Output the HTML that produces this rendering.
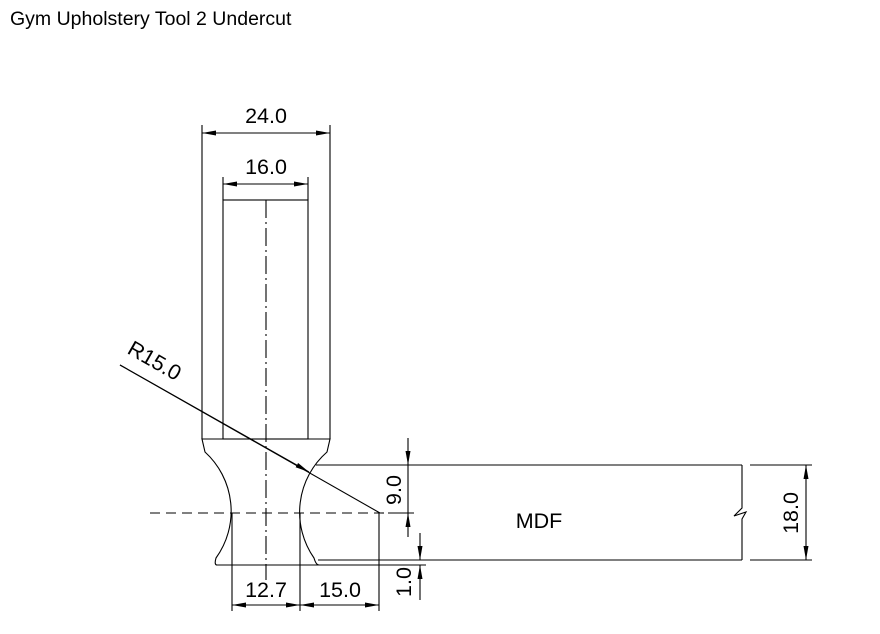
<!DOCTYPE html>
<html><head><style>body{margin:0;background:#fff}svg{display:block}</style></head><body>
<svg width="880" height="634" viewBox="0 0 880 634" xmlns="http://www.w3.org/2000/svg" font-family="Liberation Sans, sans-serif">
<rect width="880" height="634" fill="#fff"/>
<text x="10" y="25" font-size="19.5" fill="#000">Gym Upholstery Tool 2 Undercut</text>
<defs>
<marker id="a" viewBox="0 0 14 5" refX="14" refY="2.5" markerWidth="14" markerHeight="5" markerUnits="userSpaceOnUse" orient="auto-start-reverse"><path d="M0,0L14,2.5L0,5Z" fill="#000"/></marker>
</defs>
<g stroke="#000" stroke-width="1.1" fill="none">
<line x1="202" y1="125" x2="202" y2="439"/>
<line x1="330" y1="125" x2="330" y2="439"/>
<line x1="223" y1="177" x2="223" y2="200"/>
<line x1="308" y1="177" x2="308" y2="200"/>
<line x1="202" y1="133" x2="330" y2="133" marker-start="url(#a)" marker-end="url(#a)"/>
<line x1="223" y1="184" x2="308" y2="184" marker-start="url(#a)" marker-end="url(#a)"/>
<rect x="223" y="200" width="85" height="239"/>
<line x1="266" y1="200" x2="266" y2="580" stroke-dasharray="18,4,2,4"/>
<path d="M202,439 L330,439 L327,452 A80,80 0 0 0 314,558 Q316,565 319,565 L217,565 Q214,565 216,558 A80,80 0 0 0 205,452 Z"/>
<line x1="150" y1="513" x2="385" y2="513" stroke-dasharray="10,6"/>
<line x1="388" y1="513" x2="414" y2="513"/>
<line x1="316" y1="465" x2="742" y2="465"/>
<line x1="318" y1="560" x2="742" y2="560"/>
<line x1="316" y1="565" x2="426" y2="565"/>
<path d="M742,465 L742,508 L734,516 L746,512 L742,519 L742,560"/>
<line x1="750" y1="465" x2="812" y2="465"/>
<line x1="750" y1="560" x2="812" y2="560"/>
<line x1="806" y1="465" x2="806" y2="560" marker-start="url(#a)" marker-end="url(#a)"/>
<line x1="408" y1="438" x2="408" y2="465" marker-end="url(#a)"/>
<line x1="408" y1="465" x2="408" y2="513"/>
<line x1="408" y1="537" x2="408" y2="513" marker-end="url(#a)"/>
<line x1="420" y1="533" x2="420" y2="560" marker-end="url(#a)"/>
<line x1="420" y1="600" x2="420" y2="565" marker-end="url(#a)"/>
<line x1="232" y1="513" x2="232" y2="611"/>
<line x1="300" y1="513" x2="300" y2="611"/>
<line x1="379" y1="513" x2="379" y2="611"/>
<line x1="232" y1="605" x2="300" y2="605" marker-start="url(#a)" marker-end="url(#a)"/>
<line x1="300" y1="605" x2="379" y2="605" marker-start="url(#a)" marker-end="url(#a)"/>
<line x1="120" y1="365" x2="380" y2="513"/>
<line x1="120" y1="365" x2="309" y2="472" marker-end="url(#a)"/>
</g>
<g font-size="21.5" fill="#000" text-anchor="middle">
<text x="266" y="123">24.0</text>
<text x="266" y="174">16.0</text>
<text x="266" y="597">12.7</text>
<text x="340" y="597">15.0</text>
<text x="539" y="528">MDF</text>
<text transform="translate(401,490) rotate(-90)">9.0</text>
<text transform="translate(411,582) rotate(-90)">1.0</text>
<text transform="translate(798,513) rotate(-90)">18.0</text>
<text transform="translate(151,367) rotate(29.7)">R15.0</text>
</g>
</svg>
</body></html>
